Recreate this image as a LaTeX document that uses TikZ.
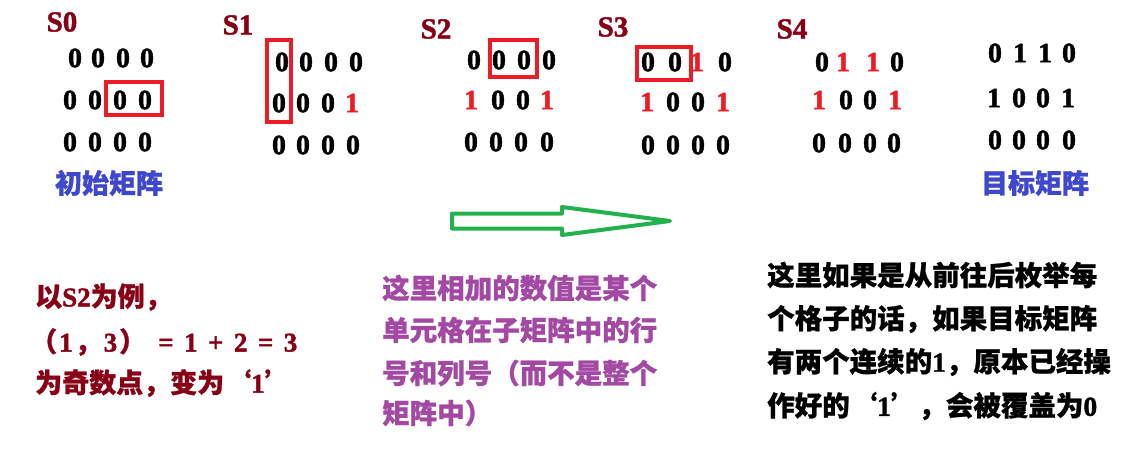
\documentclass[tikz,border=0pt]{standalone}
\usepackage{fontspec}
\newfontfamily\cjk{Noto Sans CJK SC}[BoldFeatures={FakeBold=1}]
\newfontfamily\latf{Liberation Serif}[BoldFeatures={FakeBold=1.5}]
\newcommand\Cj[1]{{\cjk #1}}
\newcommand\Lt[1]{{\latf #1}}
\definecolor{pdark}{HTML}{880015}
\definecolor{pred}{HTML}{ED1C24}
\definecolor{pgreen}{HTML}{22B14C}
\definecolor{pblue}{HTML}{3F48CC}
\definecolor{ppurple}{HTML}{A349A4}
\tikzset{
  dig/.style={font=\latf\fontsize{28}{28}\selectfont\bfseries, inner sep=0pt},
  slab/.style={font=\latf\fontsize{29}{29}\selectfont\bfseries, text=pdark, inner sep=0pt},
  blab/.style={font=\cjk\fontsize{27}{27}\selectfont\bfseries, text=pblue, inner sep=0pt},
  ltxt/.style={font=\fontsize{27}{27}\selectfont\bfseries, text=pdark, anchor=west, inner sep=0pt},
  mtxt/.style={font=\cjk\fontsize{27.5}{27.5}\selectfont\bfseries, text=ppurple, anchor=west, inner sep=0pt},
  rtxt/.style={font=\cjk\fontsize{27.5}{27.5}\selectfont\bfseries, text=black, anchor=west, inner sep=0pt},
  hbox/.style={draw=pred, line width=4pt},
  bigarrow/.style={draw=pgreen, line width=4pt, line join=round}
}
\newcommand\mrow[3]{\foreach \x/\d/\c [count=\i] in {#3} \node[dig,text=\c] (#1\i) at (\x,#2) {\d};}
\begin{document}
\begin{tikzpicture}[x=1pt,y=-1pt]
\useasboundingbox (0,0) rectangle (1129,452);
\fill[white] (0,0) rectangle (1129,452);
% labels
\node[slab] (l0) at (62,22) {S0};
\node[slab] (l1) at (238,25) {S1};
\node[slab] (l2) at (436,29) {S2};
\node[slab] (l3) at (613,27) {S3};
\node[slab] (l4) at (792,29) {S4};
% S0
\mrow{sa}{58}{75/0/black,98/0/black,123/0/black,147/0/black}
\mrow{sb}{100}{70/0/black,95/0/black,120/0/black,145/0/black}
\mrow{sc}{142}{70/0/black,95/0/black,120/0/black,145/0/black}
% S1
\mrow{ta}{62}{282/0/black,306/0/black,331/0/black,356/0/black}
\mrow{tb}{103}{279/0/black,303/0/black,328/0/black,352/1/pred}
\mrow{tc}{145}{279/0/black,303/0/black,328/0/black,353/0/black}
% S2
\mrow{ua}{60}{474/0/black,499/0/black,524/0/black,549/0/black}
\mrow{ub}{100}{471/1/pred,498/0/black,523/0/black,547/1/pred}
\mrow{uc}{142}{471/0/black,496/0/black,521/0/black,547/0/black}
% S3
\mrow{va}{62}{648/0/black,675/0/black,697/1/pred,725/0/black}
\mrow{vb}{102}{647/1/pred,673/0/black,698/0/black,723/1/pred}
\mrow{vc}{145}{648/0/black,673/0/black,698/0/black,723/0/black}
% S4
\mrow{wa}{62}{822/0/black,843/1/pred,873/1/pred,897/0/black}
\mrow{wb}{100}{819/1/pred,846/0/black,870/0/black,895/1/pred}
\mrow{wc}{143}{819/0/black,845/0/black,870/0/black,894/0/black}
% target
\mrow{xa}{53}{995/0/black,1020/1/black,1045/1/black,1069/0/black}
\mrow{xb}{98}{994/1/black,1019/0/black,1043/0/black,1068/1/black}
\mrow{xc}{140}{995/0/black,1019/0/black,1043/0/black,1069/0/black}
% highlight boxes
\draw[hbox] (106,82) rectangle (162,115);
\draw[hbox] (267,40) rectangle (291,122);
\draw[hbox] (490,40) rectangle (537,77);
\draw[hbox] (637,47) rectangle (691,80);
% blue captions
\node[blab] (init) at (109,183) {初始矩阵};
\node[blab] (goal) at (1035,183) {目标矩阵};
% green arrow
\draw[bigarrow] (452,213.5) -- (562,213.5) -- (562,207) -- (670,221) -- (562,235) -- (562,228.5) -- (452,228.5) -- cycle;
% left text
\node[ltxt] (la) at (35,297) {\Cj{以}\Lt{S2}\Cj{为例，}};
\node[ltxt] (lb) at (30,342) {\Cj{（}\hspace{2pt}\Lt{1}\hspace{2pt}\Cj{，}\hspace{2pt}\Lt{3}\hspace{2pt}\Cj{）}\hspace{12pt}\Lt{=\hspace{10.5pt}1\hspace{10.5pt}+\hspace{10.5pt}2\hspace{10.5pt}=\hspace{10.5pt}3}};
\node[ltxt] (lc) at (35,383) {\Cj{为奇数点，变为‘}\Lt{1}\Cj{’}};
% middle text
\node[mtxt] (ma) at (382,288) {这里相加的数值是某个};
\node[mtxt] (mb) at (382,330) {单元格在子矩阵中的行};
\node[mtxt] (mc) at (382,373) {号和列号（而不是整个};
\node[mtxt] (md) at (382,413) {矩阵中）};
% right text
\node[rtxt] (ra) at (767,275) {这里如果是从前往后枚举每};
\node[rtxt] (rb) at (767,319) {个格子的话，如果目标矩阵};
\node[rtxt] (rc) at (767,362) {有两个连续的\Lt{1}，原本已经操};
\node[rtxt] (rd) at (767,406) {作好的‘\Lt{1}’，会被覆盖为\Lt{0}};
\end{tikzpicture}
\end{document}
